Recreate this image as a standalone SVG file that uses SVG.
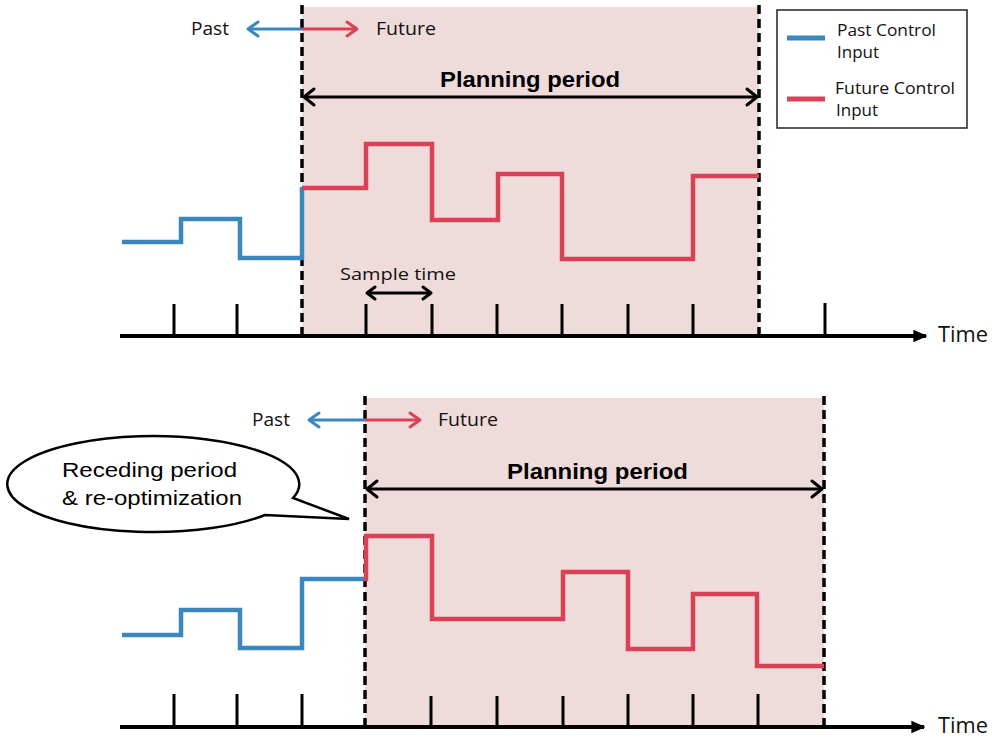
<svg xmlns="http://www.w3.org/2000/svg" width="992" height="738" viewBox="0 0 992 738">
  <defs>
    <style>
      .shade { fill: #f0dbdb; }
      .bound { stroke: #000; stroke-width: 3.5; stroke-dasharray: 9 5; fill: none; }
      .axis { stroke: #000; stroke-width: 4; fill: none; }
      .tick { stroke: #000; stroke-width: 3; fill: none; }
      .past { stroke: #3a87c0; stroke-width: 4.5; fill: none; stroke-linejoin: miter; }
      .future { stroke: #d94256; stroke-width: 4.5; fill: none; stroke-linejoin: miter; }
      .span { stroke: #000; stroke-width: 3; fill: none; }
      .chev { stroke-width: 3; fill: none; stroke-linecap: round; stroke-linejoin: round; }
      .ui { font-family: "Open Sans", "Noto Sans", "Liberation Sans", sans-serif; fill: #111; }
      .bold { font-family: "Liberation Sans", Arial, sans-serif; font-weight: bold; font-size: 22px; fill: #000; }
      .call { font-family: "Liberation Sans", Arial, sans-serif; font-size: 21px; fill: #000; }
    </style>
    <marker id="axisHead" viewBox="0 0 10 10" refX="9" refY="5" markerWidth="3.5" markerHeight="3.5" orient="auto" markerUnits="strokeWidth">
      <path d="M0,0.5 L10,5 L0,9.5 z" fill="#000"/>
    </marker>
  </defs>

  <!-- ===== Upper chart: first horizon ===== -->
  <g id="top-window">
    <rect class="shade" x="302" y="7" width="457" height="329"/>
  </g>

  <g id="top-axis">
    <line class="axis" x1="120" y1="336" x2="926" y2="336" marker-end="url(#axisHead)"/>
    <g class="ticks">
      <line class="tick" x1="174" y1="304" x2="174" y2="336"/>
      <line class="tick" x1="237" y1="304" x2="237" y2="336"/>
      <line class="tick" x1="366" y1="304" x2="366" y2="336"/>
      <line class="tick" x1="432" y1="304" x2="432" y2="336"/>
      <line class="tick" x1="497" y1="304" x2="497" y2="336"/>
      <line class="tick" x1="562" y1="304" x2="562" y2="336"/>
      <line class="tick" x1="628" y1="304" x2="628" y2="336"/>
      <line class="tick" x1="693" y1="304" x2="693" y2="336"/>
      <line class="tick" x1="825" y1="303" x2="825" y2="336"/>
    </g>
    <text class="ui" x="938" y="342" font-size="21" textLength="50" lengthAdjust="spacingAndGlyphs">Time</text>
  </g>

  <g id="top-bounds">
    <line class="bound" x1="302" y1="5" x2="302" y2="338"/>
    <line class="bound" x1="759" y1="5" x2="759" y2="338"/>
  </g>

  <g id="top-signals">
    <polyline class="past" points="122,242 181,242 181,219 240,219 240,258 302,258 302,187"/>
    <polyline class="future" points="302,188 366,188 366,144 432,144 432,220 498,220 498,174 562,174 562,259 693,259 693,176 759,176"/>
  </g>

  <g id="top-direction">
    <line stroke="#3a87c0" stroke-width="3" x1="249" y1="29" x2="302" y2="29"/>
    <polyline class="chev" stroke="#3a87c0" points="258,22 248,29 258,36"/>
    <line stroke="#d94256" stroke-width="3" x1="302" y1="29" x2="356" y2="29"/>
    <polyline class="chev" stroke="#d94256" points="347,22 357,29 347,36"/>
    <text class="ui" x="191" y="35" font-size="19" textLength="38" lengthAdjust="spacingAndGlyphs">Past</text>
    <text class="ui" x="376" y="35" font-size="19" textLength="60" lengthAdjust="spacingAndGlyphs">Future</text>
  </g>

  <g id="top-planning">
    <line class="span" x1="304" y1="97" x2="757" y2="97"/>
    <polyline class="chev" stroke="#000" points="314,89 304,97 314,105"/>
    <polyline class="chev" stroke="#000" points="747,89 757,97 747,105"/>
    <text class="bold" x="440" y="87" textLength="180" lengthAdjust="spacingAndGlyphs">Planning period</text>
  </g>

  <g id="sample-time">
    <line class="span" stroke-width="2.5" x1="367" y1="293" x2="431" y2="293"/>
    <polyline class="chev" stroke="#000" stroke-width="2.5" points="375,287 367,293 375,299"/>
    <polyline class="chev" stroke="#000" stroke-width="2.5" points="423,287 431,293 423,299"/>
    <text class="ui" x="340" y="280" font-size="17" textLength="116" lengthAdjust="spacingAndGlyphs">Sample time</text>
  </g>

  <g id="legend">
    <rect x="777" y="10" width="190" height="118" fill="#fff" stroke="#222" stroke-width="1.5"/>
    <line stroke="#3a87c0" stroke-width="5" x1="787" y1="38" x2="825" y2="38"/>
    <text class="ui" x="837" y="36" font-size="17" textLength="99" lengthAdjust="spacingAndGlyphs">Past Control</text>
    <text class="ui" x="837" y="58" font-size="17">Input</text>
    <line stroke="#d94256" stroke-width="5" x1="787" y1="99" x2="825" y2="99"/>
    <text class="ui" x="835" y="94" font-size="17" textLength="120" lengthAdjust="spacingAndGlyphs">Future Control</text>
    <text class="ui" x="836" y="116" font-size="17">Input</text>
  </g>

  <!-- ===== Lower chart: horizon shifted one sample ===== -->
  <g id="bottom-window">
    <rect class="shade" x="365" y="398" width="459" height="329"/>
  </g>

  <g id="bottom-axis">
    <line class="axis" x1="120" y1="727" x2="924" y2="727" marker-end="url(#axisHead)"/>
    <g class="ticks">
      <line class="tick" x1="174" y1="694" x2="174" y2="727"/>
      <line class="tick" x1="237" y1="694" x2="237" y2="727"/>
      <line class="tick" x1="302" y1="694" x2="302" y2="727"/>
      <line class="tick" x1="431" y1="696" x2="431" y2="727"/>
      <line class="tick" x1="497" y1="696" x2="497" y2="727"/>
      <line class="tick" x1="563" y1="696" x2="563" y2="727"/>
      <line class="tick" x1="628" y1="694" x2="628" y2="727"/>
      <line class="tick" x1="693" y1="694" x2="693" y2="727"/>
      <line class="tick" x1="758" y1="694" x2="758" y2="727"/>
    </g>
    <text class="ui" x="938" y="733" font-size="21" textLength="50" lengthAdjust="spacingAndGlyphs">Time</text>
  </g>

  <g id="bottom-bounds">
    <line class="bound" x1="365" y1="396" x2="365" y2="730"/>
    <line class="bound" x1="824" y1="396" x2="824" y2="730"/>
  </g>

  <g id="bottom-signals">
    <polyline class="past" points="122,635 181,635 181,610 240,610 240,648 302,648 302,579 365,579"/>
    <polyline class="future" points="366,581 366,536 432,536 432,619 563,619 563,572 628,572 628,649 693,649 693,594 757,594 757,666 824,666"/>
  </g>

  <g id="bottom-direction">
    <line stroke="#3a87c0" stroke-width="3" x1="310" y1="420" x2="365" y2="420"/>
    <polyline class="chev" stroke="#3a87c0" points="319,413 309,420 319,427"/>
    <line stroke="#d94256" stroke-width="3" x1="365" y1="420" x2="419" y2="420"/>
    <polyline class="chev" stroke="#d94256" points="410,413 420,420 410,427"/>
    <text class="ui" x="252" y="426" font-size="19" textLength="38" lengthAdjust="spacingAndGlyphs">Past</text>
    <text class="ui" x="438" y="426" font-size="19" textLength="60" lengthAdjust="spacingAndGlyphs">Future</text>
  </g>

  <g id="bottom-planning">
    <line class="span" x1="367" y1="489" x2="822" y2="489"/>
    <polyline class="chev" stroke="#000" points="377,481 367,489 377,497"/>
    <polyline class="chev" stroke="#000" points="812,481 822,489 812,497"/>
    <text class="bold" x="507" y="479" textLength="181" lengthAdjust="spacingAndGlyphs">Planning period</text>
  </g>

  <g id="callout">
    <path d="M293,498 A146,48 0 1 0 265,515 L349,519 Z" fill="#fff" stroke="#000" stroke-width="2.5" stroke-linejoin="miter"/>
    <text class="call" x="62" y="477" textLength="175" lengthAdjust="spacingAndGlyphs">Receding period</text>
    <text class="call" x="62" y="505" textLength="180" lengthAdjust="spacingAndGlyphs">&amp; re-optimization</text>
  </g>
</svg>
